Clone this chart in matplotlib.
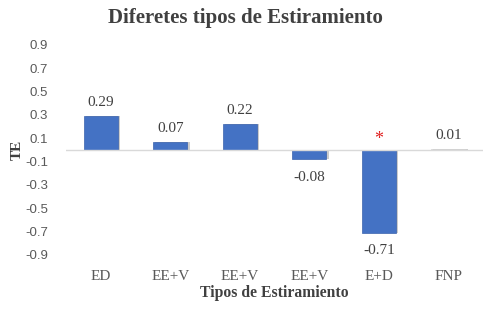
import matplotlib.pyplot as plt
import numpy as np

# Datos
categorias = ['ED', 'EE+V', 'EE+V', 'EE+V', 'E+D', 'FNP']
te = [0.29, 0.07, 0.22, -0.08, -0.71, 0.01]
etiquetas = ['0.29', '0.07', '0.22', '-0.08', '-0.71', '0.01']
yticks = [-0.9, -0.7, -0.5, -0.3, -0.1, 0.1, 0.3, 0.5, 0.7, 0.9]

serif = 'Liberation Serif'
gris = '#595959'

fig = plt.figure(figsize=(4.9, 3.14), dpi=100)
ax = fig.add_axes([0.135, 0.188, 0.851, 0.669])

x = np.arange(len(categorias))
colores = ['#4472C4'] * 5 + ['#dedede']
# sombra de las barras
ax.bar(x + 0.03, te, width=0.49, color='#9a9a9a', alpha=0.5, zorder=1)
barras = ax.bar(x, te, width=0.49, color=colores, edgecolor='#3a62ad',
                linewidth=0.5, zorder=2)
barras[-1].set_edgecolor('#d0d0d0')

ax.axhline(0, color='#d9d9d9', linewidth=1, zorder=3)

for xi, v, t in zip(x, te, etiquetas):
    if v >= 0:
        ax.text(xi, v + 0.06, t, ha='center', va='bottom', fontsize=11,
                family=serif, color='#404040')
    else:
        ax.text(xi, v - 0.1, t, ha='center', va='top', fontsize=11,
                family=serif, color='#404040')

ax.text(4, 0.02, '*', ha='center', va='bottom', fontsize=13, color='#e02020',
        family=serif)

ax.set_ylim(-0.9, 0.9)
ax.set_xlim(-0.5, len(categorias) - 0.5)
ax.set_yticks(yticks)
ax.set_yticklabels([f'{v:.1f}' for v in yticks], family='Liberation Sans',
                   fontsize=9.5, color=gris)
ax.set_xticks(x)
ax.set_xticklabels(categorias, family=serif, fontsize=11, color=gris)
ax.tick_params(length=0, pad=11)
ax.tick_params(axis='y', pad=13)
for s in ax.spines.values():
    s.set_visible(False)

ax.set_ylabel('TE', family=serif, fontweight='bold', fontsize=11, color='#404040',
              labelpad=1)
ax.set_xlabel('Tipos de Estiramiento', family=serif, fontweight='bold',
              fontsize=11.3, color='#404040', labelpad=1)
fig.suptitle('Diferetes tipos de Estiramiento', family=serif, fontweight='bold',
             fontsize=15, color='#404040', x=0.5, y=0.975)

fig.savefig('out.png', dpi=100)
